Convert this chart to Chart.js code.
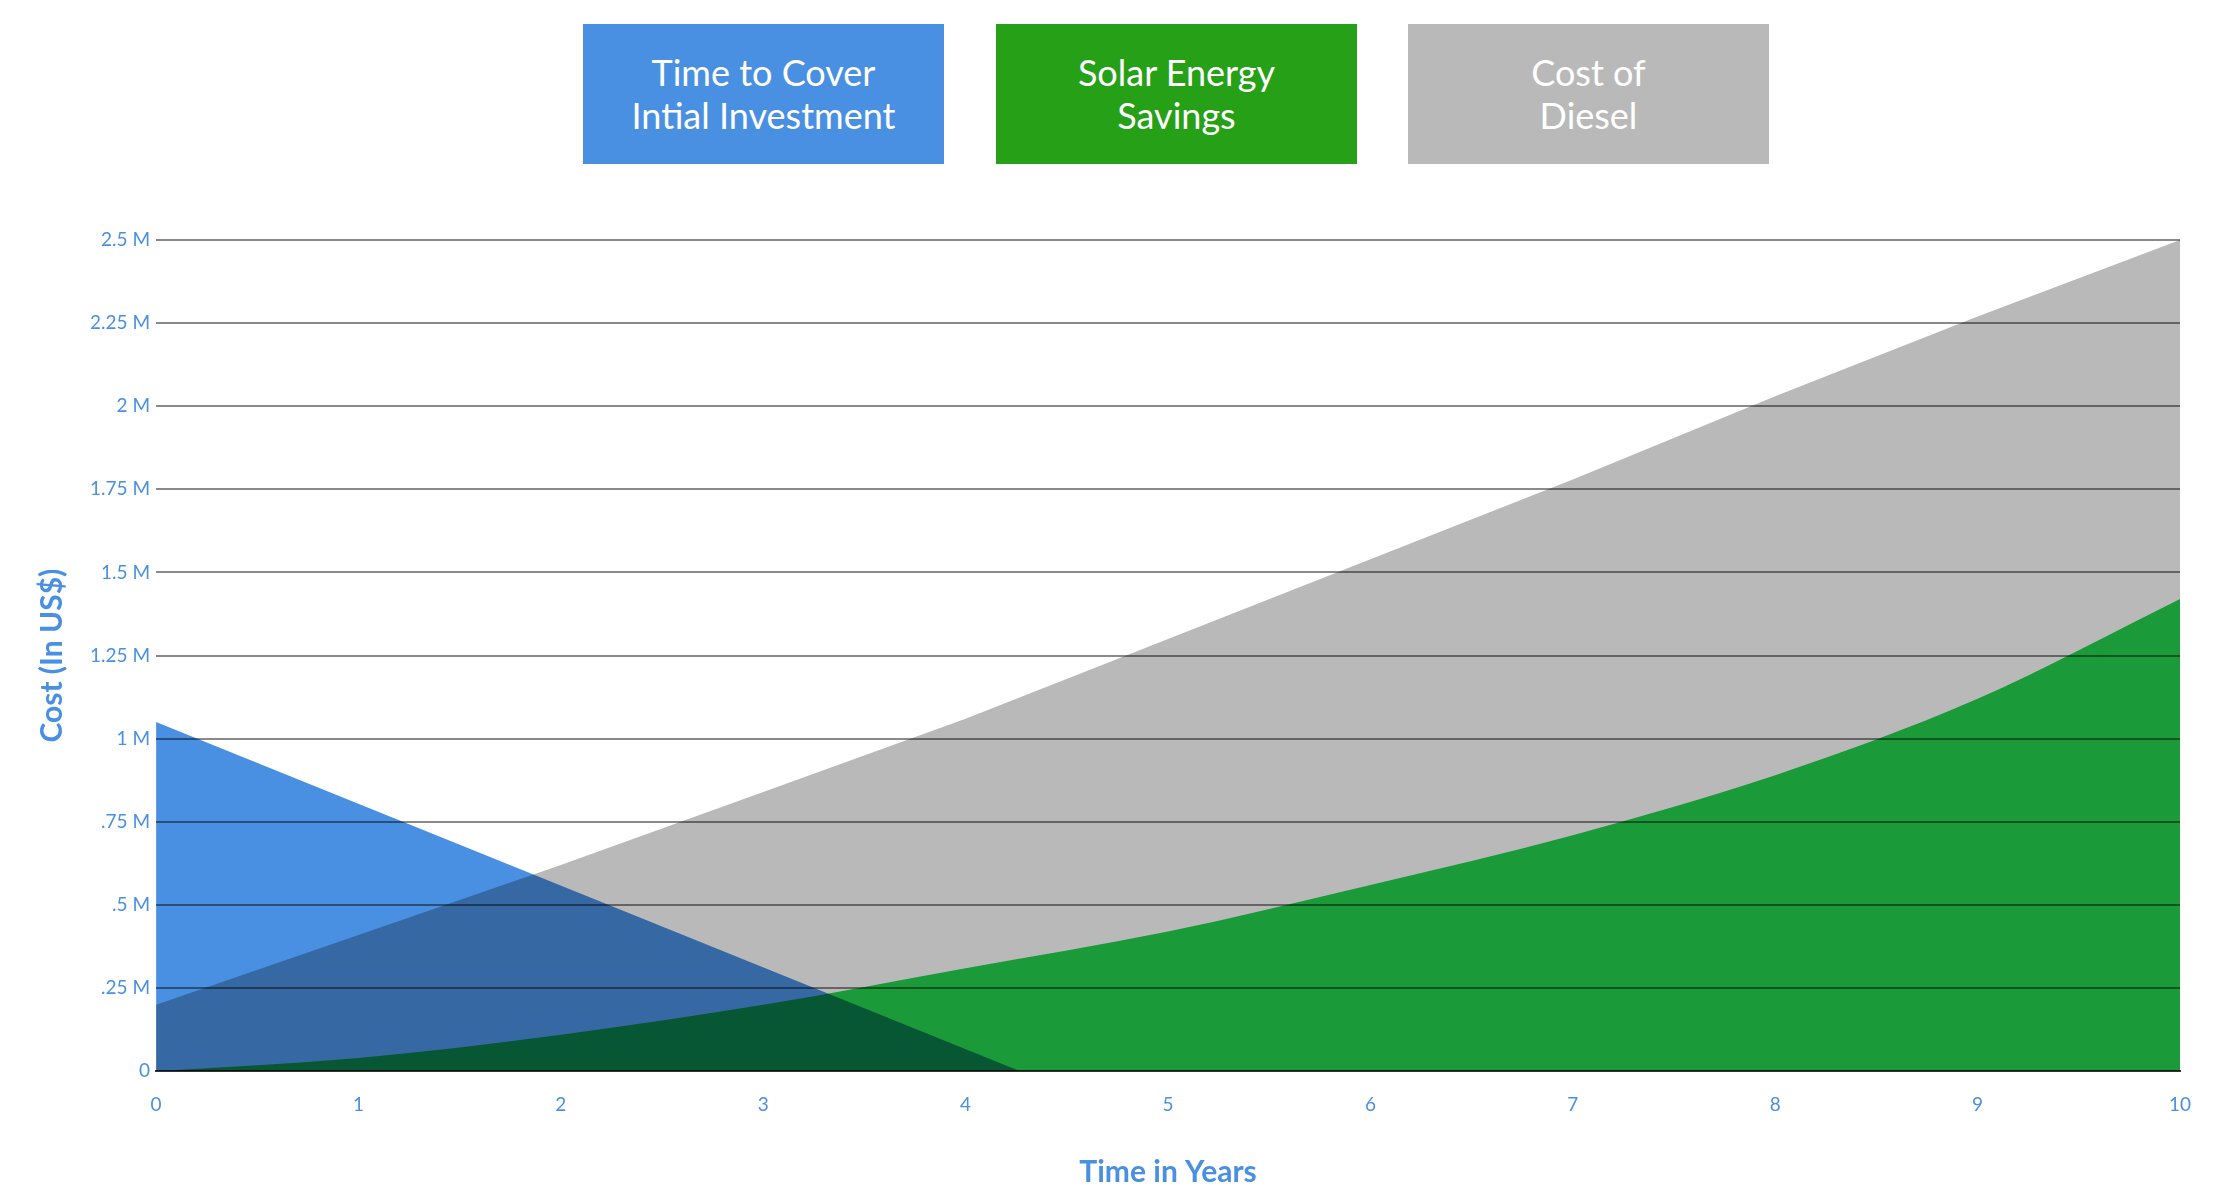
<!DOCTYPE html>
<html>
<head>
<meta charset="utf-8">
<script src="https://cdn.jsdelivr.net/npm/chart.js@4"></script>
<style>
  body { margin: 0; background: #fff; font-family: Lato, "Open Sans", sans-serif; }
  #wrap { position: relative; width: 2230px; height: 1204px; }
  .box { position: absolute; top: 24px; width: 361px; height: 140px; color: #fff;
         display: flex; align-items: center; justify-content: center; text-align: center;
         font-size: 36px; line-height: 43px; }
  #chartBox { position: absolute; left: 0; top: 200px; width: 2230px; height: 1004px; }
</style>
</head>
<body>
<div id="wrap">
  <div class="box" style="left:583px;background:#4a90e2">Time to Cover<br>Intial Investment</div>
  <div class="box" style="left:996px;background:#26a017">Solar Energy<br>Savings</div>
  <div class="box" style="left:1408px;background:#b9b9b9">Cost of<br>Diesel</div>
  <div id="chartBox"><canvas id="chart"></canvas></div>
</div>
<script>
const years = [0, 1, 2, 3, 4, 5, 6, 7, 8, 9, 10];
const dieselCost = [0.2, 0.41, 0.62, 0.84, 1.06, 1.3, 1.54, 1.78, 2.03, 2.27, 2.5];
const investX = [0, 4.27];
const investCost = [1.05, 0];
const solarX = [0, 1, 2, 3, 4, 5, 6, 7, 8, 9, 10];
const solarSavings = [0, 0.04, 0.11, 0.2, 0.31, 0.42, 0.56, 0.71, 0.89, 1.12, 1.42];
const yTickLabels = { 0: "0", 0.25: ".25 M", 0.5: ".5 M", 0.75: ".75 M", 1: "1 M", 1.25: "1.25 M",
  1.5: "1.5 M", 1.75: "1.75 M", 2: "2 M", 2.25: "2.25 M", 2.5: "2.5 M" };

const toPoints = (xs, ys) => xs.map((x, i) => ({ x, y: ys[i] }));

// blend areas like the original (overlaps get darker)
const multiply = {
  id: "multiply",
  beforeDatasetsDraw(c) { c.ctx.save(); c.ctx.globalCompositeOperation = "multiply"; },
  afterDatasetsDraw(c) { c.ctx.restore(); }
};

const blueText = "#4a90e2";
new Chart(document.getElementById("chart"), {
  type: "line",
  data: {
    datasets: [
      { label: "Cost of Diesel", data: toPoints(years, dieselCost), backgroundColor: "#b9b9b9",
        fill: "origin", borderWidth: 0, pointRadius: 0 },
      { label: "Time to Cover Intial Investment", data: toPoints(investX, investCost), backgroundColor: "#4a90e2",
        fill: "origin", borderWidth: 0, pointRadius: 0 },
      { label: "Solar Energy Savings", data: toPoints(solarX, solarSavings), backgroundColor: "#24d450",
        fill: "origin", borderWidth: 0, pointRadius: 0, cubicInterpolationMode: "monotone" }
    ]
  },
  options: {
    responsive: true,
    maintainAspectRatio: false,
    animation: false,
    layout: { padding: { left: 30, right: 50, top: 40, bottom: 10 } },
    plugins: { legend: { display: false }, tooltip: { enabled: false } },
    scales: {
      x: {
        type: "linear", min: 0, max: 10,
        grid: { display: false },
        border: { color: "#333", width: 2 },
        ticks: { stepSize: 1, color: blueText, font: { size: 19, family: "Lato" }, padding: 14 },
        title: { display: true, text: "Time in Years", color: blueText,
                 font: { size: 30, weight: "bold", family: "Lato" }, padding: { top: 24 } }
      },
      y: {
        min: 0, max: 2.5,
        grid: { color: "#8a8a8a", lineWidth: 2, drawTicks: false },
        border: { display: false },
        ticks: { stepSize: 0.25, color: blueText, font: { size: 19, family: "Lato" }, padding: 6,
                 callback: v => yTickLabels[v] },
        title: { display: true, text: "Cost (In US$)", color: blueText,
                 font: { size: 30, weight: "bold", family: "Lato" }, padding: { bottom: 14 } }
      }
    }
  },
  plugins: [multiply]
});
</script>
</body>
</html>
